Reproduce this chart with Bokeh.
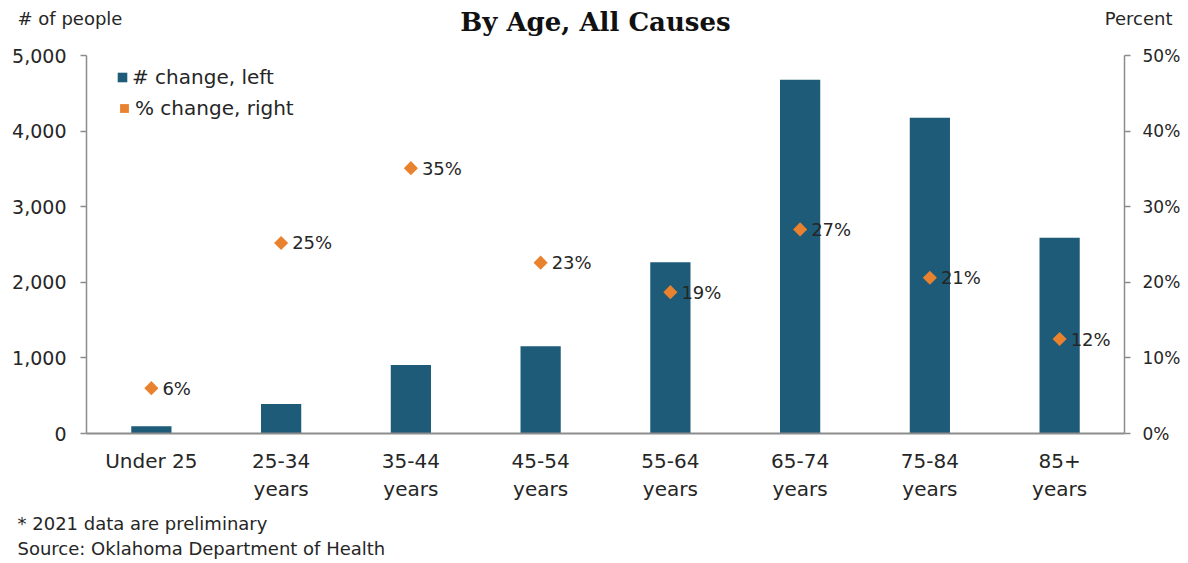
import math
from bokeh.plotting import figure
from bokeh.layouts import column
from bokeh.models import (Range1d, LinearAxis, FactorRange, NumeralTickFormatter,
                          PrintfTickFormatter, Legend, LegendItem, ColumnDataSource, FixedTicker)
from bokeh.core.properties import value
from bokeh.embed import file_html
from bokeh.resources import INLINE

categories = ["Under 25", "25-34\nyears", "35-44\nyears", "45-54\nyears",
              "55-64\nyears", "65-74\nyears", "75-84\nyears", "85+\nyears"]
num_change = [95, 390, 905, 1155, 2265, 4680, 4175, 2590]
pct_change = [6.0, 25.2, 35.1, 22.6, 18.7, 27.0, 20.6, 12.5]
pct_labels = ["6%", "25%", "35%", "23%", "19%", "27%", "21%", "12%"]

title_text = "By Age, All Causes"
left_unit = "# of people"
right_unit = "Percent"
notes = ["* 2021 data are preliminary", "Source: Oklahoma Department of Health"]

BAR = "#1D5B79"
ORANGE = "#E8822F"
FONT = "DejaVu Sans"
TXT = "#262626"
W = 1188
TOP_H = 36
BOT_H = 53


def blank(height):
    f = figure(width=W, height=height, x_range=Range1d(0, W), y_range=Range1d(height, 0),
               output_backend="svg", toolbar_location=None, x_axis_type=None, y_axis_type=None,
               min_border=0, frame_align=False)
    f.outline_line_color = None
    f.grid.grid_line_color = None
    return f


# ---- top strip (title + axis units)
top = blank(TOP_H)
top.text(x=[595], y=[21], text=[title_text], text_font=value("DejaVu Serif"),
         text_font_style="bold", text_font_size="26px", text_align="center",
         text_baseline="alphabetic", text_color="#111111")
top.text(x=[17, 1172], y=[18, 18], text=[left_unit, right_unit], text_font=value(FONT),
         text_font_size="18px", text_align=["left", "right"], text_baseline="middle",
         text_color=TXT)

# ---- main chart
src = ColumnDataSource(dict(cat=categories, n=num_change, pct=pct_change, lab=pct_labels))

p = figure(x_range=FactorRange(*categories, range_padding=0), y_range=Range1d(0, 5000),
           width=W, height=563 - TOP_H - BOT_H, output_backend="svg", toolbar_location=None,
           min_border_left=86, min_border_right=64, min_border_top=55 - TOP_H,
           min_border_bottom=510 - 433, frame_align=False)
p.extra_y_ranges = {"pct": Range1d(0, 50)}
p.outline_line_color = None
p.xgrid.grid_line_color = None
p.ygrid.grid_line_color = None

bars = p.vbar(x="cat", top="n", width=0.31, source=src, fill_color=BAR, line_color=None)
pts = p.scatter(x="cat", y="pct", source=src, y_range_name="pct", marker="square",
                angle=math.pi / 4, size=10, fill_color=ORANGE, line_color=None)
p.text(x="cat", y="pct", text="lab", source=src, y_range_name="pct", x_offset=11,
       text_baseline="middle", text_align="left", text_font=value(FONT),
       text_font_size="18px", text_color=TXT)

ya = p.yaxis[0]
ya.ticker = FixedTicker(ticks=[0, 1000, 2000, 3000, 4000, 5000])
ya.formatter = NumeralTickFormatter(format="0,0")
ra = LinearAxis(y_range_name="pct", ticker=FixedTicker(ticks=[0, 10, 20, 30, 40, 50]),
                formatter=PrintfTickFormatter(format="%d%%"))
p.add_layout(ra, "right")

for ax in (ya, ra):
    ax.axis_line_color = "#8c8c8c"
    ax.axis_line_width = 1.5
    ax.major_tick_line_color = "#8c8c8c"
    ax.major_tick_line_width = 1.5
    ax.major_tick_out = 6
    ax.major_tick_in = 0
    ax.minor_tick_line_color = None
    ax.major_label_text_font = FONT
    ax.major_label_text_color = TXT
ya.major_label_text_font_size = "19px"
ra.major_label_text_font_size = "17px"
ya.major_label_standoff = 14
ra.major_label_standoff = 12

xa = p.xaxis[0]
xa.axis_line_color = "#8c8c8c"
xa.axis_line_width = 2
xa.major_tick_line_color = None
xa.major_label_text_font = FONT
xa.major_label_text_font_size = "20px"
xa.major_label_text_color = TXT
xa.major_label_standoff = 9

common = dict(orientation="vertical", padding=0, margin=0,
              border_line_color=None, background_fill_alpha=0,
              label_text_font=FONT, label_text_font_size="20px", label_text_color=TXT)
leg1 = Legend(items=[LegendItem(label="# change, left", renderers=[bars])],
              location=(30, 344), glyph_width=12, glyph_height=12, label_standoff=4, **common)
leg2 = Legend(items=[LegendItem(label="% change, right", renderers=[pts])],
              location=(27, 313), glyph_width=22, glyph_height=22, label_standoff=0, **common)
p.add_layout(leg1)
p.add_layout(leg2)

# ---- footnotes
bot = blank(BOT_H)
bot.text(x=[17, 17], y=[13, 38], text=notes, text_font=value(FONT), text_font_size="18px",
         text_align="left", text_baseline="middle", text_color=TXT)

layout = column(top, p, bot, spacing=0)
open("out.html", "w").write(file_html(layout, INLINE))
